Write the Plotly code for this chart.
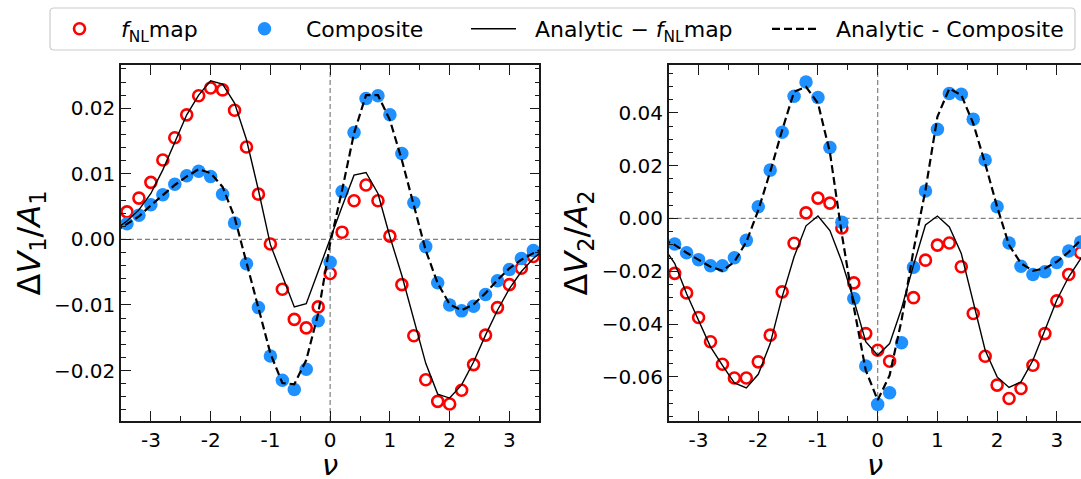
import plotly.graph_objects as go

W, H = 1081, 479

# Sample positions of the measured points
nu = [-3.4, -3.2, -3.0, -2.8, -2.6, -2.4, -2.2, -2.0, -1.8, -1.6, -1.4, -1.2,
      -1.0, -0.8, -0.6, -0.4, -0.2, 0.0, 0.2, 0.4, 0.6, 0.8, 1.0, 1.2, 1.4,
      1.6, 1.8, 2.0, 2.2, 2.4, 2.6, 2.8, 3.0, 3.2, 3.4]
# Grid of the analytic curves
nu_line = [-3.6] + nu + [3.6]

# Panel 1: Delta V1 / A1
v1_fnl = [0.0042, 0.0063, 0.0087, 0.0121, 0.0155, 0.0190, 0.0219, 0.0231, 0.0228,
          0.0197, 0.0141, 0.0069, -0.0007, -0.0076, -0.0122, -0.0135, -0.0103,
          -0.0052, 0.0011, 0.0059, 0.0083, 0.0059, 0.0005, -0.0069, -0.0147,
          -0.0214, -0.0247, -0.0251, -0.0230, -0.0191, -0.0146, -0.0104, -0.0069,
          -0.0044, -0.0026]
v1_comp = [0.0024, 0.0037, 0.0053, 0.0068, 0.0084, 0.0097, 0.0104, 0.0096, 0.0069,
           0.0025, -0.0037, -0.0104, -0.0178, -0.0215, -0.0229, -0.0198, -0.0124,
           -0.0035, 0.0073, 0.0163, 0.0215, 0.0219, 0.0190, 0.0131, 0.0056,
           -0.0011, -0.0066, -0.0100, -0.0109, -0.0102, -0.0084, -0.0063, -0.0046,
           -0.0029, -0.0017]
v1_an_fnl = [0.0015, 0.0028, 0.0045, 0.0070, 0.0106, 0.0147, 0.0190, 0.0220, 0.0242,
             0.0237, 0.0208, 0.0152, 0.0075, -0.0008, -0.0056, -0.0103, -0.0098,
             -0.0048, 0.0002, 0.0050, 0.0098, 0.0102, 0.0070, 0.0004, -0.0055,
             -0.0123, -0.0189, -0.0236, -0.0242, -0.0222, -0.0187, -0.0146, -0.0108,
             -0.0075, -0.0049, -0.0029, -0.0014]
v1_an_comp = [0.0012, 0.0023, 0.0035, 0.0052, 0.0068, 0.0083, 0.0096, 0.0107, 0.0101,
              0.0080, 0.0034, -0.0035, -0.0105, -0.0174, -0.0219, -0.0221, -0.0184,
              -0.0113, -0.0006, 0.0075, 0.0162, 0.0220, 0.0220, 0.0182, 0.0121,
              0.0050, -0.0017, -0.0067, -0.0099, -0.0108, -0.0099, -0.0082, -0.0062,
              -0.0044, -0.0031, -0.0021, -0.0012]

# Panel 2: Delta V2 / A2
v2_fnl = [-0.0208, -0.0282, -0.0375, -0.0467, -0.0552, -0.0604, -0.0604, -0.0543,
          -0.0442, -0.0278, -0.0094, 0.0021, 0.0077, 0.0058, -0.0036, -0.0244,
          -0.0436, -0.0499, -0.0541, None, -0.0300, -0.0158, -0.0101, -0.0093,
          -0.0183, -0.0360, -0.0522, -0.0631, -0.0682, -0.0644, -0.0556, -0.0436,
          -0.0312, -0.0212, -0.0130]
v2_comp = [-0.0097, -0.0130, -0.0156, -0.0179, -0.0179, -0.0149, -0.0083, 0.0044,
           0.0183, 0.0326, 0.0463, 0.0517, 0.0458, 0.0269, -0.0014, -0.0303,
           -0.0559, -0.0704, -0.0660, -0.0471, -0.0185, 0.0104, 0.0338, 0.0473,
           0.0470, 0.0376, 0.0221, 0.0044, -0.0093, -0.0181, -0.0212, -0.0202,
           -0.0167, -0.0123, -0.0089]
v2_an_fnl = [-0.0105, -0.0170, -0.0285, -0.0385, -0.0486, -0.0556, -0.0623, -0.0642,
             -0.0590, -0.0474, -0.0297, -0.0145, -0.0028, 0.0009, -0.0046, -0.0164,
             -0.0309, -0.0467, -0.0518, -0.0474, -0.0341, -0.0177, -0.0025, 0.0009,
             -0.0032, -0.0133, -0.0322, -0.0499, -0.0600, -0.0640, -0.0619, -0.0537,
             -0.0423, -0.0309, -0.0221, -0.0152, -0.0100]
v2_an_comp = [-0.0080, -0.0100, -0.0130, -0.0158, -0.0183, -0.0198, -0.0164, -0.0089,
              0.0031, 0.0177, 0.0334, 0.0480, 0.0498, 0.0436, 0.0250, -0.0060,
              -0.0335, -0.0575, -0.0688, -0.0594, -0.0385, -0.0120, 0.0107, 0.0385,
              0.0492, 0.0467, 0.0360, 0.0208, 0.0044, -0.0101, -0.0170, -0.0198,
              -0.0189, -0.0164, -0.0127, -0.0082, -0.0050]

x_ticks = [-3, -2, -1, 0, 1, 2, 3]
x_ticktext = ["-3", "-2", "-1", "0", "1", "2", "3"]
y1_ticks = [-0.02, -0.01, 0.0, 0.01, 0.02]
y1_ticktext = ["\u22120.02", "\u22120.01", "0.00", "0.01", "0.02"]
y2_ticks = [-0.06, -0.04, -0.02, 0.0, 0.02, 0.04]
y2_ticktext = ["\u22120.06", "\u22120.04", "\u22120.02", "0.00", "0.02", "0.04"]

labels = ["  <i>f</i><sub>NL</sub>map", "  Composite",
          "  Analytic \u2212 <i>f</i><sub>NL</sub>map", "  Analytic - Composite"]

RED = "#ff0000"
BLUE = "#1e90ff"
FONT = "DejaVu Sans"
AX = "#1a1a1a"


def px_x(p):
    return p / W


def px_y(p):
    return 1 - p / H


fig = go.Figure()

panels = [
    ("x", "y", v1_fnl, v1_comp, v1_an_fnl, v1_an_comp, True),
    ("x2", "y2", v2_fnl, v2_comp, v2_an_fnl, v2_an_comp, False),
]
for xa, ya, fnl, comp, an_fnl, an_comp, show in panels:
    fig.add_trace(go.Scatter(
        x=nu, y=fnl, mode="markers", xaxis=xa, yaxis=ya,
        name=labels[0], showlegend=show, legend="legend",
        marker=dict(symbol="circle-open", size=11, color=RED,
                    line=dict(color=RED, width=2.6))))
    fig.add_trace(go.Scatter(
        x=nu, y=comp, mode="markers", xaxis=xa, yaxis=ya,
        name=labels[1], showlegend=show, legend="legend2",
        marker=dict(symbol="circle", size=13.5, color=BLUE,
                    line=dict(width=0))))
    fig.add_trace(go.Scatter(
        x=nu_line, y=an_fnl, mode="lines", xaxis=xa, yaxis=ya,
        name=labels[2], showlegend=show, legend="legend3",
        line=dict(color="black", width=1.4)))
    fig.add_trace(go.Scatter(
        x=nu_line, y=an_comp, mode="lines", xaxis=xa, yaxis=ya,
        name=labels[3], showlegend=show, legend="legend4",
        line=dict(color="black", width=2.2, dash="8px,4px")))

# Plot-area edges in pixels
left1, right1 = 121, 539.3
left2 = 668.7
top, bottom = 65, 421

tickfont = dict(family=FONT, size=20, color="black")
common = dict(showline=True, linecolor=AX, linewidth=1.5, ticks="inside",
              ticklen=10, tickwidth=1.3, tickcolor=AX, showgrid=False,
              zeroline=False, tickfont=tickfont, automargin=False)

ytitle_font = dict(family=FONT, size=32, color="black")

fig.update_layout(
    xaxis=dict(domain=[px_x(left1), px_x(right1)], range=[-3.5, 3.5], anchor="y",
               tickvals=x_ticks, ticktext=x_ticktext, mirror="allticks",
               minor=dict(ticks="inside", ticklen=5, tickwidth=1, tickcolor=AX,
                          dtick=0.5, tick0=0),
               **common),
    yaxis=dict(domain=[px_y(bottom), px_y(top)], range=[-0.0277, 0.0266], anchor="x",
               tickvals=y1_ticks, ticktext=y1_ticktext, mirror="allticks",
               minor=dict(ticks="inside", ticklen=5, tickwidth=1, tickcolor=AX,
                          dtick=0.002, tick0=0),
               title=dict(text="\u0394<i>V</i><sub>1</sub>/<i>A</i><sub>1</sub>",
                          font=ytitle_font, standoff=4),
               **common),
    xaxis2=dict(domain=[px_x(left2), 1.0], range=[-3.5, 3.405], anchor="y2",
                tickvals=x_ticks, ticktext=x_ticktext, mirror="allticks",
                minor=dict(ticks="inside", ticklen=5, tickwidth=1, tickcolor=AX,
                           dtick=0.5, tick0=0),
                **common),
    yaxis2=dict(domain=[px_y(bottom), px_y(top)], range=[-0.0767, 0.0581], anchor="x2",
                tickvals=y2_ticks, ticktext=y2_ticktext, mirror=False,
                minor=dict(ticks="inside", ticklen=5, tickwidth=1, tickcolor=AX,
                           dtick=0.005, tick0=0),
                title=dict(text="\u0394<i>V</i><sub>2</sub>/<i>A</i><sub>2</sub>",
                           font=ytitle_font, standoff=4),
                **common),
    width=W, height=H,
    margin=dict(l=0, r=0, t=0, b=0, autoexpand=False),
    paper_bgcolor="white", plot_bgcolor="white",
    font=dict(family=FONT, size=20, color="black"),
)

# x-axis titles, set just under the tick labels of each panel
for xa in ["x", "x2"]:
    fig.add_annotation(text="<i>\u03bd</i>", xref=f"{xa} domain", x=0.5,
                       yref="paper", y=px_y(465), xanchor="center", yanchor="middle",
                       showarrow=False,
                       font=dict(family=FONT, size=29, color="black"))

# Legend entries, each placed along one shared frame
leg_common = dict(orientation="h", xanchor="left", yanchor="middle", y=px_y(29),
                  bgcolor="rgba(0,0,0,0)", borderwidth=0, itemwidth=45,
                  font=dict(family=FONT, size=22, color="black"))
fig.update_layout(
    legend=dict(x=px_x(52), **leg_common),
    legend2=dict(x=px_x(237), **leg_common),
    legend3=dict(x=px_x(466), **leg_common),
    legend4=dict(x=px_x(767), **leg_common),
)

# Legend frame with rounded corners
x0, x1 = px_x(50), px_x(1075)
y0, y1 = px_y(50), px_y(8)
rx, ry = 4 / W, 4 / H
frame = (f"M{x0 + rx},{y0} L{x1 - rx},{y0} Q{x1},{y0} {x1},{y0 + ry} "
         f"L{x1},{y1 - ry} Q{x1},{y1} {x1 - rx},{y1} L{x0 + rx},{y1} "
         f"Q{x0},{y1} {x0},{y1 - ry} L{x0},{y0 + ry} Q{x0},{y0} {x0 + rx},{y0} Z")
fig.add_shape(type="path", path=frame, xref="paper", yref="paper",
              line=dict(color="#cccccc", width=1.2), fillcolor="white", layer="below")

# Dashed zero reference lines in each panel
for xa, ya in [("x", "y"), ("x2", "y2")]:
    fig.add_shape(type="line", xref=f"{xa} domain", yref=ya, x0=0, x1=1, y0=0, y1=0,
                  line=dict(color="#808080", width=1.2, dash="5px,3px"), layer="below")
    fig.add_shape(type="line", xref=xa, yref=f"{ya} domain", x0=0, x1=0, y0=0, y1=1,
                  line=dict(color="#808080", width=1.2, dash="5px,3px"), layer="below")

fig.write_html("out.html")
